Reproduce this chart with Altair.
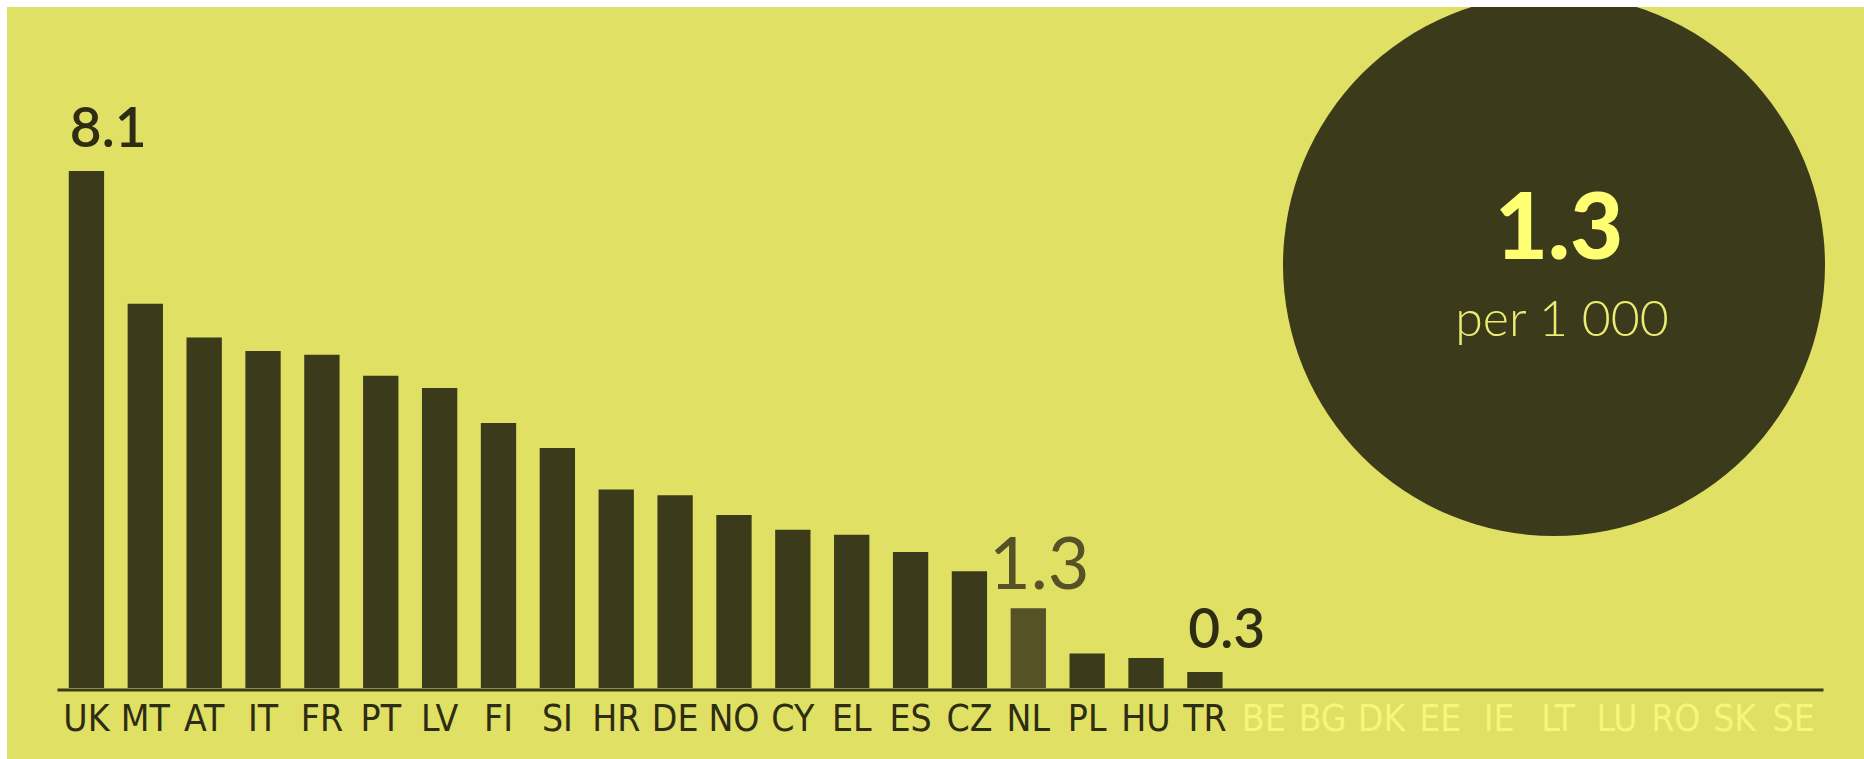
import altair as alt
import pandas as pd

# ---- data ----
countries = ["UK", "MT", "AT", "IT", "FR", "PT", "LV", "FI", "SI", "HR",
             "DE", "NO", "CY", "EL", "ES", "CZ", "NL", "PL", "HU", "TR",
             "BE", "BG", "DK", "EE", "IE", "LT", "LU", "RO", "SK", "SE"]
with_data = countries[:20]
no_data = countries[20:]
values = [8.1, 6.02, 5.49, 5.28, 5.22, 4.89, 4.70, 4.15, 3.76, 3.11,
          3.02, 2.71, 2.48, 2.40, 2.13, 1.83, 1.25, 0.54, 0.47, 0.25]

edge_labels = ["8.1", "0.3"]
edge_label_countries = ["UK", "TR"]
highlight_country = "NL"
highlight_label = "1.3"
highlight_unit = "per 1 000"

# ---- colours ----
BG = "#DFE064"
DARK = "#3B3A1B"
HIGHLIGHT = "#545226"
LIGHT_LABEL = "#F6F67A"
CIRCLE_BIG = "#FFFF73"
CIRCLE_SMALL = "#ECEC74"

W, H = 1766, 688

bars_df = pd.DataFrame({"country": with_data, "value": values})
bars_df["hl"] = bars_df["country"] == highlight_country

val_map = dict(zip(with_data, values))
edge_df = pd.DataFrame({"country": edge_label_countries,
                        "label": edge_labels,
                        "value": [val_map[c] for c in edge_label_countries]})
hl_df = pd.DataFrame({"country": [highlight_country],
                      "label": [highlight_label],
                      "value": [val_map[highlight_country]],
                      "unit": [highlight_unit]})

no_data_expr = "indexof([" + ",".join("'%s'" % c for c in no_data) + "], datum.value) >= 0"

xscale = alt.Scale(domain=countries, paddingInner=0.4, paddingOuter=0.2)
yscale = alt.Scale(domain=[0, H / 63.83], nice=False, zero=True)

x_axis = alt.Axis(
    title=None, ticks=False, tickSize=0, grid=False,
    domain=True, domainColor=DARK, domainWidth=3, offset=1.5,
    labelAngle=0, labelFont="Liberation Sans Narrow, DejaVu Sans Condensed, sans-serif",
    labelFontSize=37, labelPadding=12, labelBaseline="top",
    labelColor={"condition": {"test": no_data_expr, "value": LIGHT_LABEL}, "value": "#2E2D12"},
)

bars = alt.Chart(bars_df).mark_bar().encode(
    x=alt.X("country:N", scale=xscale, axis=x_axis, sort=countries),
    y=alt.Y("value:Q", scale=yscale, axis=None),
    color=alt.condition("datum.hl", alt.value(HIGHLIGHT), alt.value(DARK)),
)

edge_text = alt.Chart(edge_df).mark_text(
    align="left", baseline="alphabetic", font="Lato", fontSize=55,
    fontWeight=600, color="#2E2D14", dy=-24, dx=1,
).encode(
    x=alt.X("country:N", scale=xscale, bandPosition=0, axis=x_axis, sort=countries),
    y=alt.Y("value:Q", scale=yscale, axis=None),
    text="label:N",
)

hl_text = alt.Chart(hl_df).mark_text(
    align="center", baseline="alphabetic", font="Lato", fontSize=72,
    fontWeight=400, color=HIGHLIGHT, dy=-19, dx=11,
).encode(
    x=alt.X("country:N", scale=xscale, axis=x_axis, sort=countries),
    y=alt.Y("value:Q", scale=yscale, axis=None),
    text="label:N",
)

circle = alt.Chart(hl_df).mark_point(
    shape="circle", filled=True, size=542 * 542, opacity=1, color=DARK, strokeWidth=0,
).encode(x=alt.value(1554 - 57), y=alt.value(265))

circle_big = alt.Chart(hl_df).mark_text(
    align="center", baseline="alphabetic", font="Lato", fontSize=92,
    fontWeight=900, color=CIRCLE_BIG,
).encode(x=alt.value(1559 - 57), y=alt.value(259), text="label:N")

circle_small = alt.Chart(hl_df).mark_text(
    align="center", baseline="alphabetic", font="Lato", fontSize=50,
    fontWeight=300, color=CIRCLE_SMALL,
).encode(x=alt.value(1562 - 57), y=alt.value(336), text="unit:N")

strip_top = alt.Chart(hl_df).mark_rect(color="white").encode(
    x=alt.value(-57), x2=alt.value(W + 41), y=alt.value(0), y2=alt.value(7))
strip_left = alt.Chart(hl_df).mark_rect(color="white").encode(
    x=alt.value(-57), x2=alt.value(-50), y=alt.value(0), y2=alt.value(H + 71))

chart = alt.layer(
    bars, edge_text, hl_text, circle, circle_big, circle_small, strip_top, strip_left
).properties(
    width=W, height=H,
    padding={"left": 57, "top": 0, "right": 41, "bottom": 71},
    autosize=alt.AutoSizeParams(type="none"),
    background=BG,
).configure_view(stroke=None)

chart.save("out.html", embed_options={"renderer": "svg", "actions": False})
